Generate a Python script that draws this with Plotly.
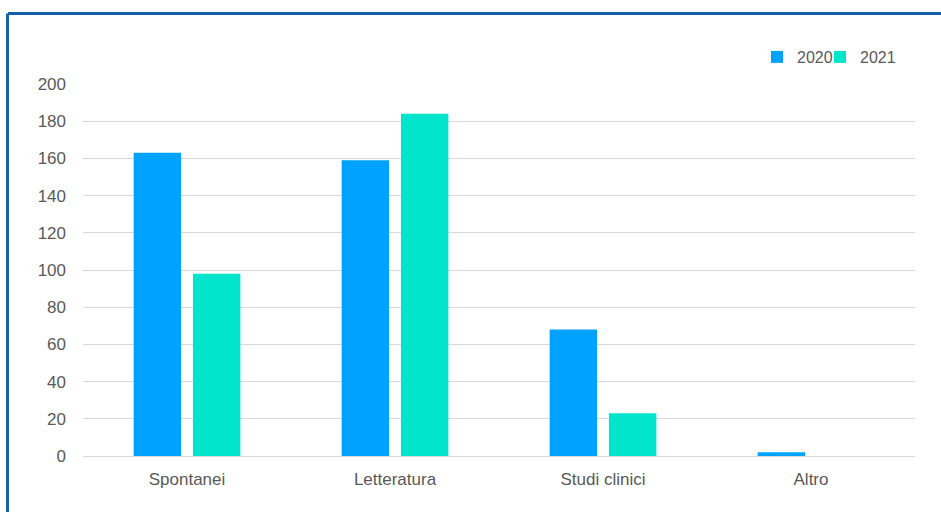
import plotly.graph_objects as go

categories = ["Spontanei", "Letteratura", "Studi clinici", "Altro"]
series_names = ["2020", "2021"]
values_2020 = [163, 159, 68, 2]
values_2021 = [98, 184, 23, 0]
colors = ["#00A2FF", "#00E5CC"]
y_ticks = [0, 20, 40, 60, 80, 100, 120, 140, 160, 180, 200]

W, H = 941, 512
ML, MR, MT, MB = 83, 26, 84, 56
pw, ph = W - ML - MR, H - MT - MB

def px_x(x):
    return (x - ML) / pw

def px_y(y):
    return 1 - (y - MT) / ph

fig = go.Figure()
legends = ["legend", "legend2"]
for name, vals, c, lg in zip(series_names, [values_2020, values_2021], colors, legends):
    fig.add_trace(go.Bar(x=categories, y=vals, name=name, legend=lg,
                         marker=dict(color=c, line=dict(width=0))))

border = "#1560A8"
fig.add_shape(type="line", xref="paper", yref="paper", x0=px_x(8), x1=px_x(960), y0=px_y(13.5), y1=px_y(13.5),
              line=dict(color=border, width=3))
fig.add_shape(type="line", xref="paper", yref="paper", x0=px_x(7.5), x1=px_x(7.5), y0=px_y(13.5), y1=px_y(540),
              line=dict(color=border, width=3))

font = "Liberation Sans, Arial, Helvetica, sans-serif"
leg_common = dict(orientation="h", xanchor="left", y=px_y(57), yanchor="middle",
                  font=dict(size=16, color="#595959"), bgcolor="rgba(0,0,0,0)", itemclick=False,
                  borderwidth=0)
fig.update_layout(
    width=W, height=H,
    margin=dict(l=ML, r=MR, t=MT, b=MB),
    paper_bgcolor="white", plot_bgcolor="white",
    barmode="group", bargap=0.43, bargroupgap=0.2,
    font=dict(family=font, size=16, color="#595959"),
    showlegend=True,
    legend=dict(x=px_x(797 - 40), **leg_common),
    legend2=dict(x=px_x(860 - 40), **leg_common),
    xaxis=dict(showgrid=False, showline=False, ticks="", ticklabelstandoff=11,
               tickfont=dict(size=17, color="#595959")),
    yaxis=dict(range=[0, 200], tickvals=y_ticks, showgrid=True, gridcolor="#D9D9D9", gridwidth=1.3,
               zeroline=True, zerolinecolor="#D9D9D9", zerolinewidth=1.3, showline=False, ticks="",
               ticklabelstandoff=16, tickfont=dict(size=17, color="#595959")),
)

fig.write_html("out.html")
